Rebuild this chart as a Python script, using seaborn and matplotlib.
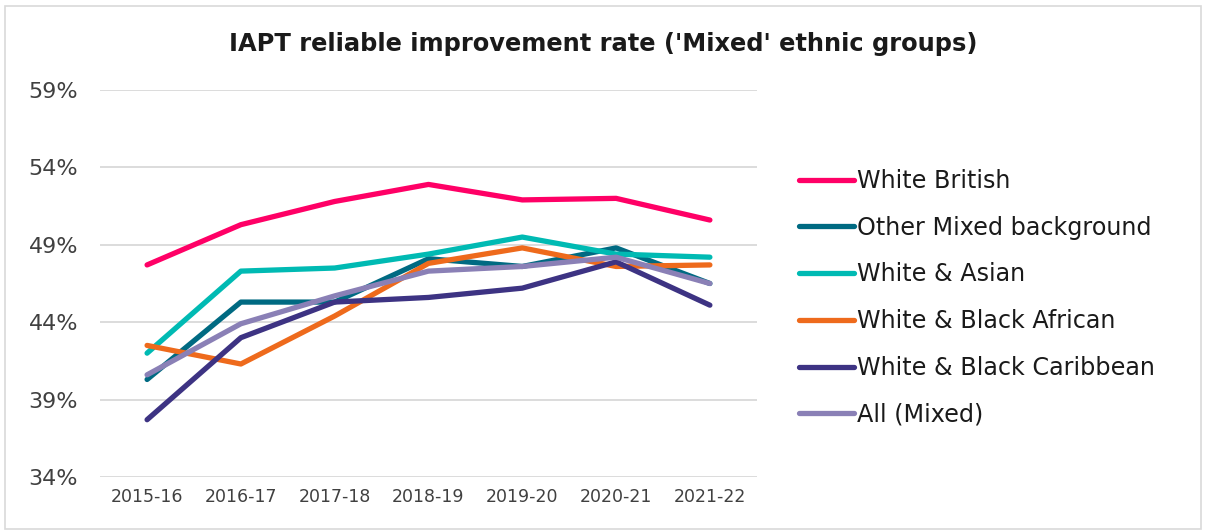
import matplotlib
matplotlib.use("Agg")
import matplotlib.pyplot as plt
import seaborn as sns
import pandas as pd
from matplotlib.patches import Rectangle
from matplotlib.ticker import FuncFormatter

years = ["2015-16", "2016-17", "2017-18", "2018-19", "2019-20", "2020-21", "2021-22"]

white_british = [47.7, 50.3, 51.8, 52.9, 51.9, 52.0, 50.6]
other_mixed = [40.3, 45.3, 45.3, 48.1, 47.6, 48.8, 46.5]
white_asian = [42.0, 47.3, 47.5, 48.4, 49.5, 48.4, 48.2]
white_black_african = [42.5, 41.3, 44.4, 47.8, 48.8, 47.6, 47.7]
white_black_caribbean = [37.7, 43.0, 45.3, 45.6, 46.2, 47.9, 45.1]
all_mixed = [40.6, 43.9, 45.7, 47.3, 47.6, 48.2, 46.5]

groups = ["White British", "Other Mixed background", "White & Asian",
          "White & Black African", "White & Black Caribbean", "All (Mixed)"]
series = [white_british, other_mixed, white_asian,
          white_black_african, white_black_caribbean, all_mixed]
colors = ["#FF0066", "#006A82", "#00BAB3", "#EE6A1C", "#3D3383", "#8A80B6"]

df = pd.DataFrame({
    "year": [y for _ in groups for y in years],
    "group": [g for g in groups for _ in years],
    "rate": [v for s in series for v in s],
})

sns.set_theme(style="white")
plt.rcParams["font.family"] = ["DejaVu Sans"]

fig = plt.figure(figsize=(12.07, 5.31), dpi=100)
ax = fig.add_axes([0.083, 0.1017, 0.544, 0.7288])

sns.lineplot(data=df, x="year", y="rate", hue="group", hue_order=groups,
             palette=colors, linewidth=3.8, sort=False, ax=ax,
             solid_capstyle="round", solid_joinstyle="round")

ax.set_xlim(-0.5, 6.5)
ax.set_ylim(34, 59)
ax.set_yticks([34, 39, 44, 49, 54, 59])
ax.yaxis.set_major_formatter(FuncFormatter(lambda v, p: f"{v:.0f}%"))
ax.grid(axis="y", color="#D9D9D9", linewidth=1.3)
ax.set_axisbelow(True)
for s in ax.spines.values():
    s.set_visible(False)
ax.set_xlabel("")
ax.set_ylabel("")
ax.tick_params(axis="y", labelsize=16, colors="#404040", pad=16, length=0)
ax.tick_params(axis="x", labelsize=12.5, colors="#404040", pad=8, length=0)

handles, labels = ax.get_legend_handles_labels()
ax.legend(handles, labels, loc="center left", bbox_to_anchor=(1.05, 0.463),
          frameon=False, fontsize=17.2, handlelength=2.3, handletextpad=0.12,
          labelspacing=0.95, borderaxespad=0, labelcolor="#1a1a1a")

fig.text(0.5, 0.918, "IAPT reliable improvement rate ('Mixed' ethnic groups)",
         ha="center", va="center", fontsize=17.4, fontweight="bold", color="#1a1a1a")

fig.patches.append(Rectangle((0.004, 0.004), 0.991, 0.985, transform=fig.transFigure,
                             fill=False, edgecolor="#D9D9D9", linewidth=1.2))

fig.savefig("out.png", dpi=100, facecolor="white")
